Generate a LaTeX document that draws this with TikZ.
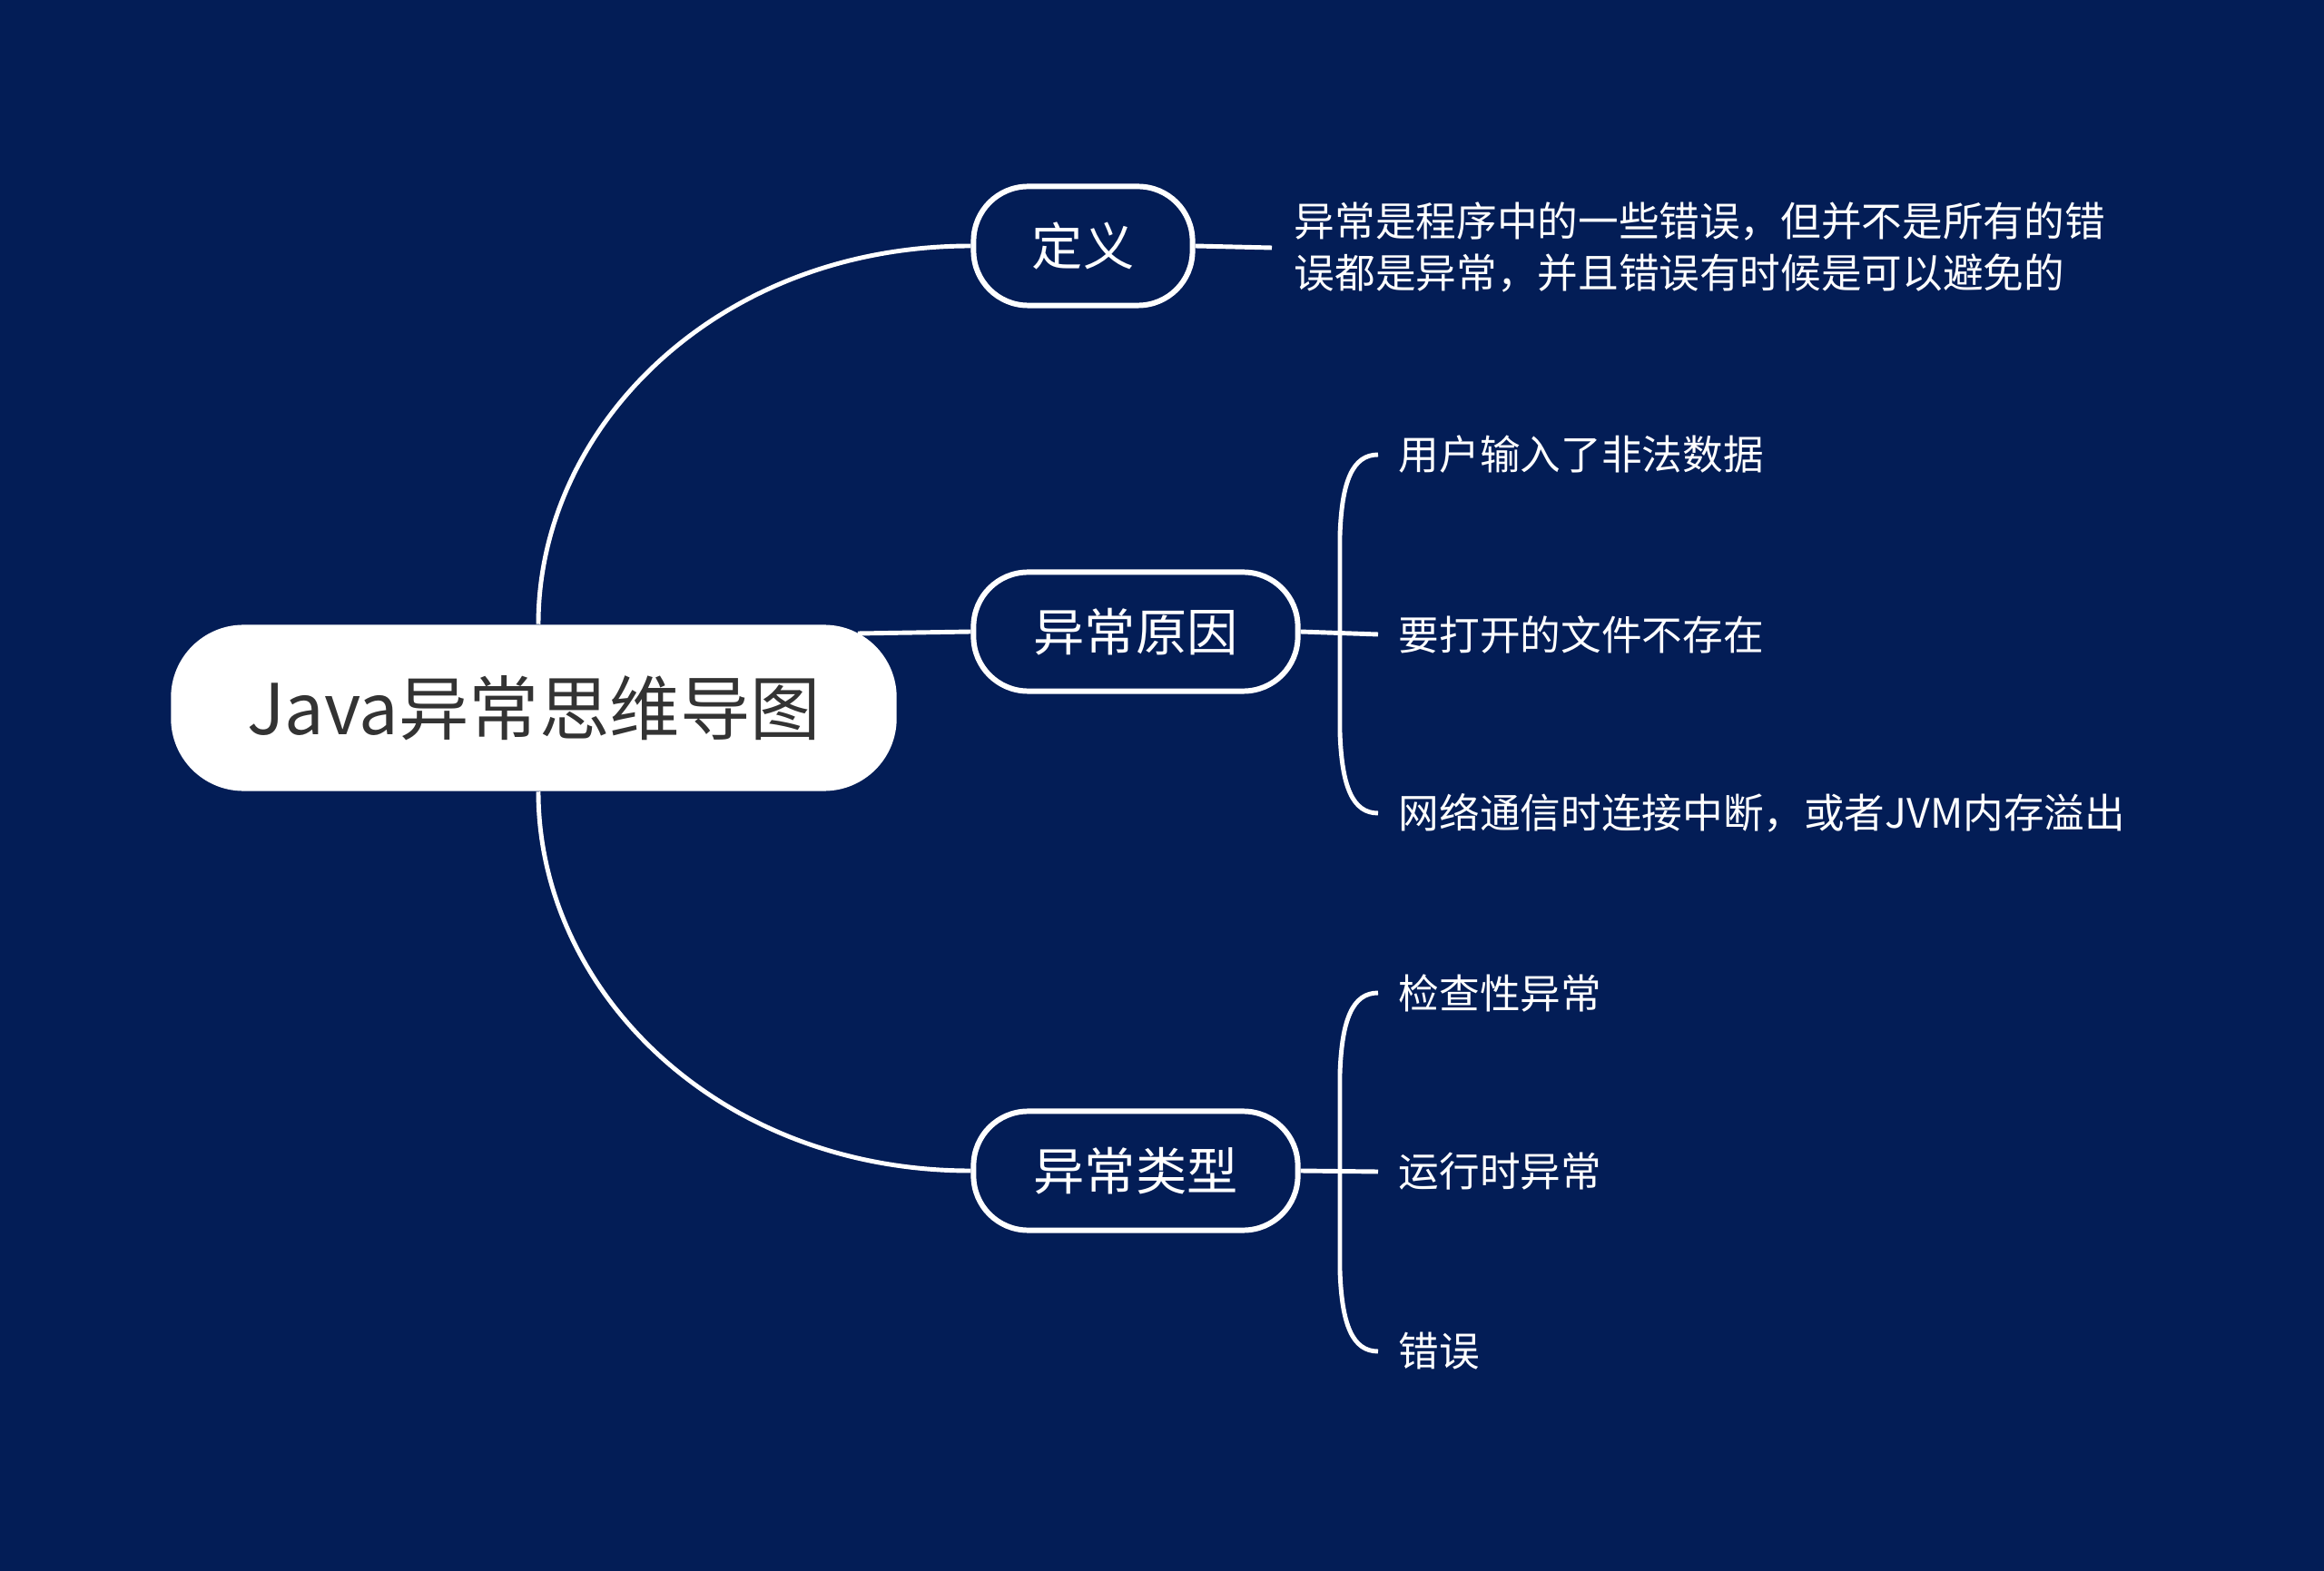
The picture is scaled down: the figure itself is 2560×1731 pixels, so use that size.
\documentclass[tikz,border=0pt]{standalone}
\usepackage{fontspec}
\setmainfont{Noto Sans CJK SC}
\usetikzlibrary{positioning}
\definecolor{bgnavy}{RGB}{3,29,86}
\definecolor{rootgray}{RGB}{51,51,51}

\begin{document}
\begin{tikzpicture}[x=0.01cm, y=-0.01cm,
  rootbox/.style={fill=white, rounded corners=0.8cm, minimum width=7.99cm, minimum height=1.83cm, text=rootgray, font=\fontsize{22}{26}\selectfont},
  topicbox/.style={draw=white, line width=1.7pt, fill=bgnavy, rounded corners=0.6cm, minimum height=1.31cm, text=white, font=\fontsize{16}{19}\selectfont},
  leaf/.style={text=white, inner sep=0pt, anchor=west, font=\fontsize{12.7}{16.2}\selectfont},
  link/.style={draw=white, line width=1.4pt}]
  \fill[bgnavy] (0,0) rectangle (2560,1731);
  \useasboundingbox (0,0) rectangle (2560,1731);

  % central topic and main branches
  \node[rootbox] (root) at (588,780) {Java异常思维导图};
  \node[topicbox, minimum width=2.41cm] (def) at (1193,271) {定义};
  \node[topicbox, minimum width=3.57cm] (cause) at (1251,696) {异常原因};
  \node[topicbox, minimum width=3.57cm] (kind) at (1251,1290) {异常类型};
  \coordinate (rootedge) at (945,698);
  \draw[link] ([xshift=0.05cm]root.north) .. controls (593,470) and (790,271) .. (def.west);
  \draw[link] (rootedge) -- (cause.west);
  \draw[link] ([xshift=0.05cm]root.south) .. controls (593,1091) and (790,1290) .. (kind.west);

  % definition
  \node[leaf, align=left] (deftext) at (1425,273) {异常是程序中的一些错误，但并不是所有的错\\误都是异常，并且错误有时候是可以避免的};
  \draw[link] (def.east) -- ([xshift=-0.24cm]deftext.west);

  % causes
  \node[leaf] (c1) at (1540,501) {用户输入了非法数据};
  \node[leaf] (c2) at (1540,699) {要打开的文件不存在};
  \node[leaf] (c3) at (1540,896) {网络通信时连接中断，或者JVM内存溢出};
  \draw[link] (cause.east) -- ([xshift=-0.22cm]c2.west);
  \draw[link] ([xshift=-0.22cm]c1.west) .. controls (1490,501) and (1478,530) .. (1476,590)
    -- (1476,807) .. controls (1478,867) and (1490,896) .. ([xshift=-0.22cm]c3.west);

  % kinds
  \node[leaf] (k1) at (1540,1094) {检查性异常};
  \node[leaf] (k2) at (1540,1291) {运行时异常};
  \node[leaf] (k3) at (1540,1489) {错误};
  \draw[link] (kind.east) -- ([xshift=-0.22cm]k2.west);
  \draw[link] ([xshift=-0.22cm]k1.west) .. controls (1490,1094) and (1478,1123) .. (1476,1183)
    -- (1476,1400) .. controls (1478,1460) and (1490,1489) .. ([xshift=-0.22cm]k3.west);
\end{tikzpicture}
\end{document}
